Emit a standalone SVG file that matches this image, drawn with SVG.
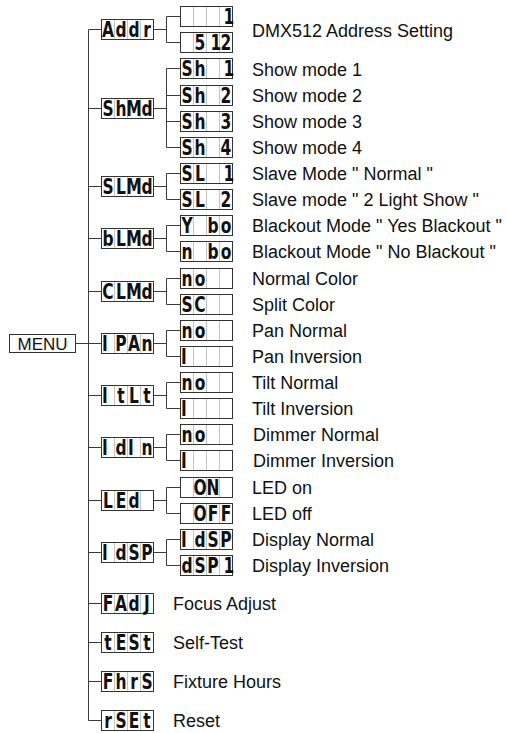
<svg xmlns="http://www.w3.org/2000/svg" width="507" height="733" viewBox="0 0 507 733">
<style>
.bg{fill:#fff}
.ln{fill:none;stroke:#3a3a3a;stroke-width:1}
.box{fill:#fff;stroke:#333;stroke-width:1}
.cell{stroke:#c4c4c4;stroke-width:1}
.seg{font-family:"DejaVu Sans Condensed","Liberation Sans Narrow","Liberation Sans",sans-serif;font-weight:bold;font-size:21px;fill:#111;text-anchor:middle}
.lbl{font-family:"Liberation Sans",Arial,sans-serif;font-size:18px;fill:#111}
.menu{font-family:"Liberation Sans",Arial,sans-serif;font-size:17px;fill:#111;text-anchor:middle}
</style>
<defs>
<g id="disp">
<rect class="box" x="0" y="0" width="52" height="20"/>
<path class="cell" d="M13,0.5V19.5M26,0.5V19.5M39,0.5V19.5"/>
</g>
</defs>
<rect class="bg" x="0" y="0" width="507" height="733"/>

<g id="connectors">
<path class="ln" d="M88.5,29.5V720.5H101.5"/>
<path class="ln" d="M75.5,343.5H101.5"/>
<path class="ln" d="M88.5,29.5H101.5M88.5,108.5H101.5M88.5,186.5H101.5M88.5,238.5H101.5M88.5,291.5H101.5M88.5,395.5H101.5M88.5,447.5H101.5M88.5,500.5H101.5M88.5,552.5H101.5M88.5,603.5H101.5M88.5,642.5H101.5M88.5,681.5H101.5"/>
<path class="ln" d="M153.5,29.5H166.5M166.5,16.5V42.5M166.5,16.5H180.5M166.5,42.5H180.5"/>
<path class="ln" d="M153.5,108.5H166.5M166.5,68.5V147.5M166.5,68.5H180.5M166.5,95.5H180.5M166.5,121.5H180.5M166.5,147.5H180.5"/>
<path class="ln" d="M153.5,186.5H166.5M166.5,173.5V199.5M166.5,173.5H180.5M166.5,199.5H180.5"/>
<path class="ln" d="M153.5,238.5H166.5M166.5,225.5V251.5M166.5,225.5H180.5M166.5,251.5H180.5"/>
<path class="ln" d="M153.5,291.5H166.5M166.5,278.5V304.5M166.5,278.5H180.5M166.5,304.5H180.5"/>
<path class="ln" d="M153.5,343.5H166.5M166.5,330.5V356.5M166.5,330.5H180.5M166.5,356.5H180.5"/>
<path class="ln" d="M153.5,395.5H166.5M166.5,382.5V408.5M166.5,382.5H180.5M166.5,408.5H180.5"/>
<path class="ln" d="M153.5,447.5H166.5M166.5,434.5V460.5M166.5,434.5H180.5M166.5,460.5H180.5"/>
<path class="ln" d="M153.5,500.5H166.5M166.5,487.5V513.5M166.5,487.5H180.5M166.5,513.5H180.5"/>
<path class="ln" d="M153.5,552.5H166.5M166.5,539.5V565.5M166.5,539.5H180.5M166.5,565.5H180.5"/>
</g>

<g id="menu">
<rect class="box" x="9.5" y="334.5" width="66" height="18"/>
<text class="menu" x="42.5" y="349.7">MENU</text>
</g>

<g id="addr">
<use href="#disp" x="101.5" y="19.5"/>
<text class="seg" transform="scale(0.82 1)" x="131.71 147.56 163.41 179.27" y="37">Addr</text>
<use href="#disp" x="180.5" y="6.5"/>
<text class="seg" transform="scale(0.82 1)" x="279.27" y="24">1</text>
<use href="#disp" x="180.5" y="32.5"/>
<text class="seg" transform="scale(0.82 1)" x="243.9 263.41 275.61" y="50">512</text>
<text class="lbl" x="252" y="36.5">DMX512 Address Setting</text>
</g>

<g id="shmd">
<use href="#disp" x="101.5" y="98.5"/>
<text class="seg" transform="scale(0.82 1)" x="131.71 147.56 163.41 179.27" y="116">ShMd</text>
<use href="#disp" x="180.5" y="58.5"/>
<text class="seg" transform="scale(0.82 1)" x="228.05 243.9 279.27" y="76">Sh1</text>
<text class="lbl" x="252" y="75.5">Show mode 1</text>
<use href="#disp" x="180.5" y="85.5"/>
<text class="seg" transform="scale(0.82 1)" x="228.05 243.9 275.61" y="103">Sh2</text>
<text class="lbl" x="252" y="102">Show mode 2</text>
<use href="#disp" x="180.5" y="111.5"/>
<text class="seg" transform="scale(0.82 1)" x="228.05 243.9 275.61" y="129">Sh3</text>
<text class="lbl" x="252" y="128">Show mode 3</text>
<use href="#disp" x="180.5" y="137.5"/>
<text class="seg" transform="scale(0.82 1)" x="228.05 243.9 275.61" y="155">Sh4</text>
<text class="lbl" x="252" y="154">Show mode 4</text>
</g>

<g id="slmd">
<use href="#disp" x="101.5" y="176.5"/>
<text class="seg" transform="scale(0.82 1)" x="131.71 147.56 163.41 179.27" y="194">SLMd</text>
<use href="#disp" x="180.5" y="163.5"/>
<text class="seg" transform="scale(0.82 1)" x="228.05 243.9 279.27" y="181">SL1</text>
<text class="lbl" x="252" y="180">Slave Mode " Normal "</text>
<use href="#disp" x="180.5" y="189.5"/>
<text class="seg" transform="scale(0.82 1)" x="228.05 243.9 275.61" y="207">SL2</text>
<text class="lbl" x="252" y="206">Slave mode " 2 Light Show "</text>
</g>

<g id="blmd">
<use href="#disp" x="101.5" y="228.5"/>
<text class="seg" transform="scale(0.82 1)" x="131.71 147.56 163.41 179.27" y="246">bLMd</text>
<use href="#disp" x="180.5" y="215.5"/>
<text class="seg" transform="scale(0.82 1)" x="228.05 259.76 275.61" y="233">Ybo</text>
<text class="lbl" x="252" y="232">Blackout Mode " Yes Blackout "</text>
<use href="#disp" x="180.5" y="241.5"/>
<text class="seg" transform="scale(0.82 1)" x="228.05 259.76 275.61" y="259">nbo</text>
<text class="lbl" x="252" y="258">Blackout Mode " No Blackout "</text>
</g>

<g id="clmd">
<use href="#disp" x="101.5" y="281.5"/>
<text class="seg" transform="scale(0.82 1)" x="131.71 147.56 163.41 179.27" y="299">CLMd</text>
<use href="#disp" x="180.5" y="268.5"/>
<text class="seg" transform="scale(0.82 1)" x="228.05 243.9" y="286">no</text>
<text class="lbl" x="252" y="285">Normal Color</text>
<use href="#disp" x="180.5" y="294.5"/>
<text class="seg" transform="scale(0.82 1)" x="228.05 243.9" y="312">SC</text>
<text class="lbl" x="252" y="311">Split Color</text>
</g>

<g id="ipan">
<use href="#disp" x="101.5" y="333.5"/>
<text class="seg" transform="scale(0.82 1)" x="128.05 147.56 163.41 179.27" y="351">IPAn</text>
<use href="#disp" x="180.5" y="320.5"/>
<text class="seg" transform="scale(0.82 1)" x="228.05 243.9" y="338">no</text>
<text class="lbl" x="252" y="337">Pan Normal</text>
<use href="#disp" x="180.5" y="346.5"/>
<text class="seg" transform="scale(0.82 1)" x="224.39" y="364">I</text>
<text class="lbl" x="252" y="363">Pan Inversion</text>
</g>

<g id="itlt">
<use href="#disp" x="101.5" y="385.5"/>
<text class="seg" transform="scale(0.82 1)" x="128.05 147.56 163.41 179.27" y="403">ItLt</text>
<use href="#disp" x="180.5" y="372.5"/>
<text class="seg" transform="scale(0.82 1)" x="228.05 243.9" y="390">no</text>
<text class="lbl" x="252" y="389">Tilt Normal</text>
<use href="#disp" x="180.5" y="398.5"/>
<text class="seg" transform="scale(0.82 1)" x="224.39" y="416">I</text>
<text class="lbl" x="252" y="415">Tilt Inversion</text>
</g>

<g id="idin">
<use href="#disp" x="101.5" y="437.5"/>
<text class="seg" transform="scale(0.82 1)" x="128.05 147.56 159.76 179.27" y="455">IdIn</text>
<use href="#disp" x="180.5" y="424.5"/>
<text class="seg" transform="scale(0.82 1)" x="228.05 243.9" y="442">no</text>
<text class="lbl" x="253" y="441">Dimmer Normal</text>
<use href="#disp" x="180.5" y="450.5"/>
<text class="seg" transform="scale(0.82 1)" x="224.39" y="468">I</text>
<text class="lbl" x="253" y="467">Dimmer Inversion</text>
</g>

<g id="led">
<use href="#disp" x="101.5" y="490.5"/>
<text class="seg" transform="scale(0.82 1)" x="131.71 147.56 163.41" y="508">LEd</text>
<use href="#disp" x="180.5" y="477.5"/>
<text class="seg" transform="scale(0.82 1)" x="243.9 259.76" y="495">ON</text>
<text class="lbl" x="252" y="494">LED on</text>
<use href="#disp" x="180.5" y="503.5"/>
<text class="seg" transform="scale(0.82 1)" x="243.9 259.76 275.61" y="521">OFF</text>
<text class="lbl" x="252" y="520">LED off</text>
</g>

<g id="idsp">
<use href="#disp" x="101.5" y="542.5"/>
<text class="seg" transform="scale(0.82 1)" x="128.05 147.56 163.41 179.27" y="560">IdSP</text>
<use href="#disp" x="180.5" y="529.5"/>
<text class="seg" transform="scale(0.82 1)" x="224.39 243.9 259.76 275.61" y="547">IdSP</text>
<text class="lbl" x="252" y="546">Display Normal</text>
<use href="#disp" x="180.5" y="555.5"/>
<text class="seg" transform="scale(0.82 1)" x="228.05 243.9 259.76 279.27" y="573">dSP1</text>
<text class="lbl" x="252" y="572">Display Inversion</text>
</g>

<g id="fadj">
<use href="#disp" x="101.5" y="593.5"/>
<text class="seg" transform="scale(0.82 1)" x="131.71 147.56 163.41 179.27" y="611">FAdJ</text>
<text class="lbl" x="173" y="610">Focus Adjust</text>
</g>

<g id="test">
<use href="#disp" x="101.5" y="632.5"/>
<text class="seg" transform="scale(0.82 1)" x="131.71 147.56 163.41 179.27" y="650">tESt</text>
<text class="lbl" x="173" y="649">Self-Test</text>
</g>

<g id="fhrs">
<use href="#disp" x="101.5" y="671.5"/>
<text class="seg" transform="scale(0.82 1)" x="131.71 147.56 163.41 179.27" y="689">FhrS</text>
<text class="lbl" x="173" y="688">Fixture Hours</text>
</g>

<g id="rset">
<use href="#disp" x="101.5" y="710.5"/>
<text class="seg" transform="scale(0.82 1)" x="131.71 147.56 163.41 179.27" y="728">rSEt</text>
<text class="lbl" x="173" y="727">Reset</text>
</g>
</svg>
